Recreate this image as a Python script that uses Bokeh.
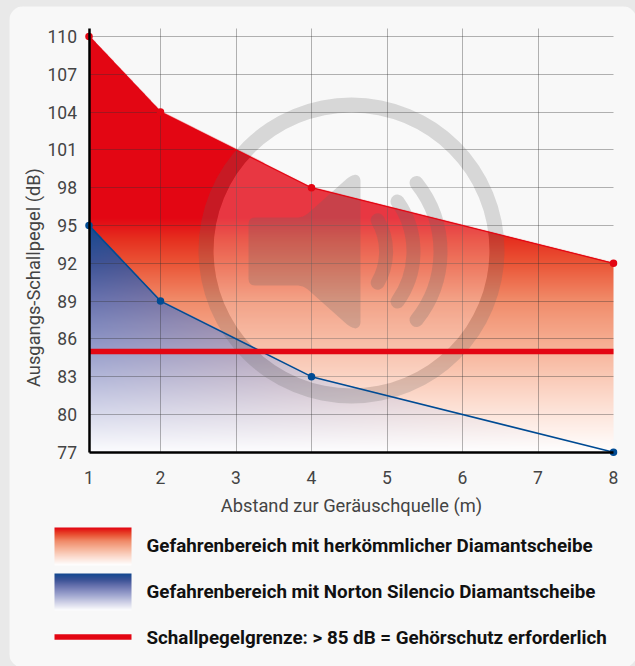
import numpy as np
from bokeh.core.properties import value
from bokeh.embed import file_html
from bokeh.models import FixedTicker, Grid, LinearAxis, Range1d
from bokeh.plotting import figure
from bokeh.resources import INLINE

# ---------- data ----------
distance_ticks = [1, 2, 3, 4, 5, 6, 7, 8]
level_ticks = [77, 80, 83, 86, 89, 92, 95, 98, 101, 104, 107, 110]
distance_m = [1, 2, 4, 8]
conventional_db = [110, 104, 98, 92]
silencio_db = [95, 89, 83, 77]
limit_db = 85
x_title = "Abstand zur Geräuschquelle (m)"
y_title = "Ausgangs-Schallpegel (dB)"
legend_labels = [
    "Gefahrenbereich mit herkömmlicher Diamantscheibe",
    "Gefahrenbereich mit Norton Silencio Diamantscheibe",
    "Schallpegelgrenze: > 85 dB = Gehörschutz erforderlich",
]

# ---------- style ----------
RED = "#e30613"
BLUE = "#004b93"
INK = "#444444"
FONT = "Roboto"
PANEL = "#f8f8f8"
PAGE = "#e9e9e9"
FIG_L, FIG_T, W, H = 9, 6, 628, 662
PX_X2, PX_PER_M = 160.0, 75.5      # pixel of the "2" tick, pixels per metre
PX_Y110, PX_PER_DB = 36.0, 12.6    # pixel of the "110" tick, pixels per dB
FIRST_GAP = 71.5 / 75.5            # the 1-2 interval is slightly narrower in the chart


def warp(v):
    """Axis position of a distance: first interval is drawn a bit narrower."""
    v = np.asarray(v, dtype=float)
    return np.where(v < 2, 2 - (2 - v) * FIRST_GAP, v)


def dx(px):
    return 2 + (np.asarray(px, dtype=float) - PX_X2) / PX_PER_M


def dy(px):
    return 110 - (np.asarray(px, dtype=float) - PX_Y110) / PX_PER_DB


p = figure(
    width=W, height=H, output_backend="svg", toolbar_location=None,
    x_range=Range1d(float(dx(FIG_L)), float(dx(FIG_L + W))),
    y_range=Range1d(float(dy(FIG_T + H)), float(dy(FIG_T))),
    x_axis_location=None, y_axis_location=None, min_border=0,
    background_fill_color=PANEL, border_fill_color=PANEL, outline_line_color=None,
)
p.xgrid.visible = False
p.ygrid.visible = False
p.styles = {"border-radius": "15px", "overflow": "hidden"}

x_pos = warp(distance_m)
tick_pos = [float(t) for t in warp(distance_ticks)]
x1, x8 = tick_pos[0], tick_pos[-1]
y_top = float(dy(28))
ylo, yhi = min(level_ticks), max(level_ticks)

# ---------- gradient stops (fraction from swatch top to white) ----------
RED_STOPS = [(0.0, (227, 6, 19)), (0.09, (229, 47, 31)), (0.19, (234, 83, 53)),
             (0.35, (240, 138, 104)), (0.57, (247, 182, 156)), (0.78, (252, 220, 207)),
             (1.0, (255, 255, 255))]
BLUE_STOPS = [(0.0, (20, 72, 144)), (0.16, (58, 82, 150)), (0.32, (101, 112, 173)),
              (0.54, (149, 156, 202)), (0.75, (197, 200, 226)), (1.0, (252, 252, 254))]


def ramp(stops, f):
    f = np.clip(f, 0, 1)
    fr = [s[0] for s in stops]
    return np.stack([np.interp(f, fr, [s[1][i] for s in stops]) for i in range(3)], axis=-1)


def under_mask(xs_data, ys_data, line_x, line_y):
    sub = np.array([-0.33, 0, 0.33])
    out = np.zeros((len(ys_data), len(xs_data)))
    sy = abs(ys_data[1] - ys_data[0])
    for s in sub:
        curve = np.interp(xs_data, line_x, line_y)
        out += (ys_data[:, None] + s * sy <= curve[None, :]).astype(float)
    return out / 3


# ---------- filled areas as one image, drawn through the data scales ----------
px_w, px_h = 526, 424
xs = np.linspace(x1, x8, px_w)
ys = np.linspace(ylo, float(dy(28)), px_h)        # row 0 = bottom
frac = (dy(218) - ys) / (dy(218) - ylo)
red_rgb = ramp(RED_STOPS, frac)[:, None, :].repeat(px_w, axis=1)
red_a = under_mask(xs, ys, x_pos, conventional_db)
frac_b = (95 - ys) / (95 - ylo)
blue_rgb = ramp(BLUE_STOPS, frac_b)[:, None, :].repeat(px_w, axis=1)
blue_a = under_mask(xs, ys, x_pos, silencio_db)
mix = np.clip(1 - (xs - x1) / (x8 - x1) * 0.92, 0, 1)[None, :] * blue_a
rgb = red_rgb * (1 - mix[..., None]) + blue_rgb * mix[..., None]
alpha = np.maximum(red_a, blue_a)
area = np.dstack([rgb, alpha * 255]).round().astype(np.uint8)
img = area[..., 0].astype(np.uint32) | area[..., 1].astype(np.uint32) << 8 \
    | area[..., 2].astype(np.uint32) << 16 | area[..., 3].astype(np.uint32) << 24
p.image_rgba(image=[img], x=x1, y=ylo, dw=x8 - x1, dh=float(dy(28)) - ylo, level="image")

# ---------- grid ----------
g_kw = dict(grid_line_color="#333333", grid_line_alpha=0.36, grid_line_width=1)
p.add_layout(Grid(dimension=0, ticker=FixedTicker(ticks=tick_pos[1:-1]),
                  cross_bounds=(ylo, y_top), **g_kw))
p.add_layout(Grid(dimension=1, ticker=FixedTicker(ticks=level_ticks),
                  cross_bounds=(x1, x8), **g_kw))

# ---------- watermark speaker ----------
cx, cy = dx(351), dy(250)
p.circle(x=[float(cx)], y=[float(cy)], radius=138, radius_units="screen",
         fill_color="white", fill_alpha=0.2, line_alpha=0)
p.annulus(x=[float(cx)], y=[float(cy)], inner_radius=138, outer_radius=153,
          inner_radius_units="screen", outer_radius_units="screen",
          fill_color="#666666", fill_alpha=0.22, line_alpha=0)


def rounded(points, r):
    out_x, out_y = [], []
    n = len(points)
    for i in range(n):
        a, b, c = np.array(points[i - 1], float), np.array(points[i], float), np.array(points[(i + 1) % n], float)
        u = (a - b) / np.linalg.norm(a - b)
        v = (c - b) / np.linalg.norm(c - b)
        s, e = b + u * r, b + v * r
        for t in np.linspace(0, 1, 8):
            q = (1 - t) ** 2 * s + 2 * t * (1 - t) * b + t ** 2 * e
            out_x.append(q[0])
            out_y.append(q[1])
    return out_x, out_y


sx, sy_ = rounded([(248, 217), (303, 217), (351, 174), (360, 174), (360, 328),
                   (351, 328), (303, 285), (248, 285)], 7)
p.patch(x=dx(sx), y=dy(sy_), fill_color="#666666", fill_alpha=0.24, line_alpha=0)
for arc_x, rad, deg in [(323, 62.6, 30), (327, 86, 35.5), (330, 110, 38.5)]:
    p.arc(x=[float(dx(arc_x))], y=[float(dy(251))], radius=rad, radius_units="screen",
          start_angle=-np.radians(deg), end_angle=np.radians(deg),
          line_color="#666666", line_alpha=0.24, line_width=14, line_cap="round")

# ---------- lines and points ----------
p.line(x=x_pos, y=conventional_db, line_color=RED, line_width=1.2)
p.line(x=x_pos, y=silencio_db, line_color=BLUE, line_width=1.5)
p.line(x=[x1, x8], y=[limit_db, limit_db], line_color=RED, line_width=5.5)
p.scatter(x=x_pos, y=conventional_db, size=7.5, marker="circle", fill_color=RED, line_alpha=0)
p.scatter(x=x_pos, y=silencio_db, size=7.5, marker="circle", fill_color=BLUE, line_alpha=0)

# ---------- axes ----------
xaxis = LinearAxis(
    ticker=FixedTicker(ticks=tick_pos),
    major_label_overrides={t: str(d) for t, d in zip(tick_pos, distance_ticks)},
    fixed_location=ylo, bounds=(x1, x8), axis_label=x_title,
    axis_label_text_font=FONT, axis_label_text_font_size="18.3px", axis_label_text_font_style="normal",
    axis_label_text_color=INK, axis_label_standoff=7,
    major_label_text_font=FONT, major_label_text_font_size="17.5px", major_label_text_color=INK,
    major_label_standoff=13, major_tick_line_color=None, minor_tick_line_color=None,
    axis_line_color="black", axis_line_width=2.5,
)
yaxis = LinearAxis(
    ticker=FixedTicker(ticks=level_ticks), fixed_location=x1, bounds=(ylo, y_top),
    major_label_text_font=FONT, major_label_text_font_size="17.5px", major_label_text_color=INK,
    major_label_standoff=6, major_tick_line_color=None, minor_tick_line_color=None,
    axis_line_color="black", axis_line_width=2.5,
)
p.add_layout(xaxis, "below")
p.add_layout(yaxis, "left")
p.text(x=[float(dx(33))], y=[float(dy(277))], text=[y_title], angle=np.pi / 2,
       text_font=value(FONT), text_font_size="18.3px", text_color=INK,
       text_align="center", text_baseline="middle")

# ---------- legend ----------
for top, bot, stops in [(527, 565, RED_STOPS), (573, 610, BLUE_STOPS)]:
    f = np.linspace(1, 0, bot - top)
    c = ramp(stops, f)[:, None, :].astype(np.uint8)
    sw = (c[..., 0].astype(np.uint32) | c[..., 1].astype(np.uint32) << 8
          | c[..., 2].astype(np.uint32) << 16 | (255 << 24))
    p.image_rgba(image=[sw], x=float(dx(54)), y=float(dy(bot)),
                 dw=float(dx(131) - dx(54)), dh=float(dy(top) - dy(bot)))
p.line(x=dx([54, 131]), y=dy([636.5, 636.5]), line_color=RED, line_width=5.5)
p.text(x=dx([146, 146, 146]), y=dy([545.5, 591.5, 637.5]), text=legend_labels,
       text_font=value(FONT), text_font_style="bold", text_font_size="18.8px",
       text_color="#111111", text_align="left", text_baseline="middle")

html = file_html(p, INLINE)
html = html.replace(
    "</head>",
    f"<style>html,body{{margin:0;background:{PAGE};overflow:hidden}}"
    f"body{{padding:{FIG_T}px 0 0 {FIG_L}px}}</style></head>", 1)
open("out.html", "w").write(html)
